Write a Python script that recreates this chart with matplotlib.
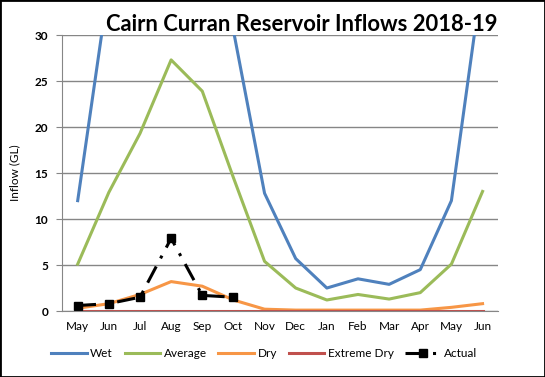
import numpy as np
import matplotlib.pyplot as plt

plt.rcParams['font.family'] = ['Lato', 'DejaVu Sans']

months = ['May', 'Jun', 'Jul', 'Aug', 'Sep', 'Oct', 'Nov', 'Dec',
          'Jan', 'Feb', 'Mar', 'Apr', 'May', 'Jun']
wet = [12.0, 35.5, 55.0, 70.0, 60.0, 30.5, 12.8, 5.7, 2.5, 3.5, 2.9, 4.5, 12.0, 36.5]
average = [5.1, 12.9, 19.3, 27.3, 23.9, 14.5, 5.4, 2.5, 1.2, 1.8, 1.3, 2.0, 5.1, 13.0]
dry = [0.3, 0.8, 1.8, 3.2, 2.7, 1.2, 0.2, 0.1, 0.1, 0.1, 0.1, 0.1, 0.4, 0.8]
extreme_dry = [0.0] * 14
actual = [0.6, 0.8, 1.5, 7.9, 1.7, 1.5]

x = np.arange(len(months))

fig = plt.figure(figsize=(5.45, 3.77), dpi=100)
ax = fig.add_axes([0.114, 0.175, 0.80, 0.732])

ax.plot(x, wet, color='#4F81BD', lw=2.2, label='Wet')
ax.plot(x, average, color='#9BBB59', lw=2.2, label='Average')
ax.plot(x, dry, color='#F79646', lw=2.2, label='Dry')
ax.plot(x, extreme_dry, color='#C0504D', lw=2.2, label='Extreme Dry')
ax.plot(x[:len(actual)], actual, color='black', lw=2.2, ls=(0, (6, 3, 1, 3)),
        marker='s', ms=6, label='Actual')

ax.set_xlim(-0.5, len(months) - 0.5)
ax.set_ylim(0, 30)
ax.set_yticks(range(0, 31, 5))
ax.set_xticks(x)
ax.set_xticklabels(months, fontsize=8.5)
for lab in ax.get_yticklabels():
    lab.set_fontsize(8.5)
    lab.set_fontweight('bold')
ax.grid(axis='y', color='#868686', lw=1)
ax.set_axisbelow(True)
for s in ['top', 'right']:
    ax.spines[s].set_visible(False)
ax.spines['left'].set_color('#868686')
ax.spines['bottom'].set_color('#868686')
ax.tick_params(axis='x', length=0, pad=7)
ax.tick_params(axis='y', length=4, color='#868686', pad=6)
ax.set_ylabel('Inflow (GL)', fontsize=8.5, labelpad=10)

fig.text(0.553, 0.935, 'Cairn Curran Reservoir Inflows 2018-19', ha='center',
         va='center', fontsize=15.8, fontweight='bold')

fig.legend(loc='lower center', bbox_to_anchor=(0.485, 0.02), ncol=5, frameon=False,
           fontsize=8.5, handlelength=3.0, columnspacing=1.0, handletextpad=0.3)

fig.patches.append(plt.Rectangle((0, 0), 1, 1, transform=fig.transFigure,
                                 fill=False, ec='black', lw=2))

fig.savefig('out.png', dpi=100)
